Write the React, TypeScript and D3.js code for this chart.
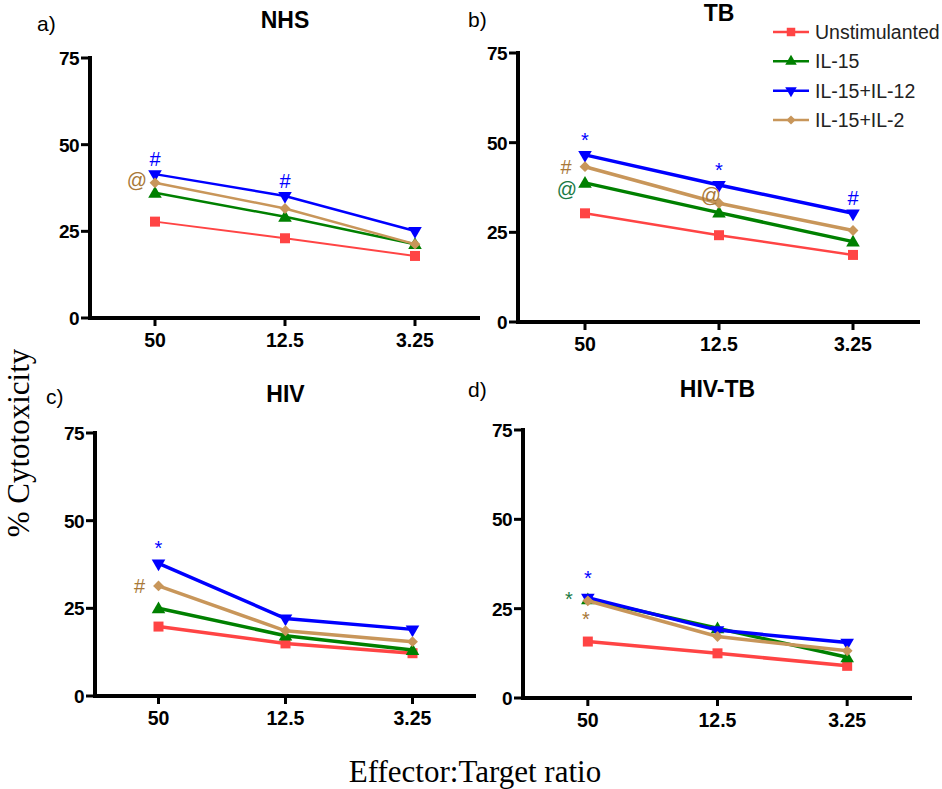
import React from 'react';
import * as d3 from 'd3';

// E:T ratios on the x axis
const ratios = ['50', '12.5', '3.25'];
const seriesNames = ['Unstimulanted', 'IL-15', 'IL-15+IL-12', 'IL-15+IL-2'];
const yTicks = [0, 25, 50, 75];

// % cytotoxicity, one row per series (same order as seriesNames)
const nhsValues = [
  [27.8, 23.0, 17.9],
  [36.1, 29.2, 21.3],
  [41.5, 35.2, 25.1],
  [39.0, 31.6, 21.3],
];
const tbValues = [
  [30.3, 24.2, 18.7],
  [38.8, 30.5, 22.4],
  [46.6, 38.2, 30.3],
  [43.3, 33.1, 25.5],
];
const hivValues = [
  [19.8, 15.0, 12.2],
  [25.0, 17.2, 13.1],
  [37.8, 22.1, 19.0],
  [31.4, 18.6, 15.5],
];
const hivTbValues = [
  [15.8, 12.5, 9.0],
  [27.6, 19.5, 11.4],
  [28.1, 19.0, 15.5],
  [27.2, 17.2, 13.2],
];

// significance marks: series index, ratio index, symbol, where it sits
const nhsMarks = [
  { s: 2, r: 0, t: '#', at: 'above' },
  { s: 2, r: 1, t: '#', at: 'above' },
  { s: 3, r: 0, t: '@', at: 'leftHigh' },
];
const tbMarks = [
  { s: 2, r: 0, t: '*', at: 'above' },
  { s: 3, r: 0, t: '#', at: 'left' },
  { s: 1, r: 0, t: '@', at: 'leftLow' },
  { s: 2, r: 1, t: '*', at: 'above' },
  { s: 3, r: 1, t: '@', at: 'on' },
  { s: 2, r: 2, t: '#', at: 'above' },
];
const hivMarks = [
  { s: 2, r: 0, t: '*', at: 'above' },
  { s: 3, r: 0, t: '#', at: 'left' },
];
const hivTbMarks = [
  { s: 2, r: 0, t: '*', at: 'aboveFar' },
  { s: 1, r: 0, t: '*', at: 'left' },
  { s: 3, r: 0, t: '*', at: 'below' },
];

const colors = ['#ff4444', '#008000', '#0000ff', '#c8965a'];
const markColors = ['#ff4444', '#1a7a45', '#0000ff', '#a87838'];
const sans = '"Liberation Sans", Arial, sans-serif';
const serif = '"Liberation Serif", "Times New Roman", serif';

const symbolPath = (i: number) => {
  if (i === 0) return d3.symbol(d3.symbolSquare, 100)() as string;
  if (i === 3) return d3.symbol(d3.symbolDiamond2, 75)() as string;
  return d3.symbol(d3.symbolTriangle, 80)() as string;
};

type Mark = { s: number; r: number; t: string; at: string };

type PanelProps = {
  label: string;
  title: string;
  values: number[][];
  marks: Mark[];
  x0: number;
  x1: number;
  yZero: number;
  yTop: number;
  titleY: number;
  labelX: number;
  labelY: number;
  widths: number[];
};

function Panel(p: PanelProps) {
  const x = d3.scalePoint<string>().domain(ratios).range([p.x0, p.x1]).padding(0.5);
  const y = d3.scaleLinear().domain([0, 75]).range([p.yZero, p.yTop]);
  const line = d3
    .line<number>()
    .x((_, i) => x(ratios[i]) as number)
    .y((d) => y(d));

  const markPos = (m: Mark) => {
    const px = x(ratios[m.r]) as number;
    const py = y(p.values[m.s][m.r]);
    if (m.at === 'above') return [px, py - 15];
    if (m.at === 'aboveFar') return [px, py - 20];
    if (m.at === 'left') return [px - 19, py];
    if (m.at === 'leftHigh') return [px - 18, py - 3];
    if (m.at === 'leftLow') return [px - 18, py + 6];
    if (m.at === 'below') return [px - 2, py + 18];
    return [px - 8, py - 8];
  };

  return (
    <g>
      <text x={p.labelX} y={p.labelY} fontFamily={sans} fontSize={21}>
        {p.label}
      </text>
      <text x={(p.x0 + p.x1) / 2} y={p.titleY} fontFamily={sans} fontSize={23} fontWeight="bold" textAnchor="middle">
        {p.title}
      </text>
      {/* axes */}
      <line x1={p.x0} x2={p.x0} y1={p.yTop - 2} y2={p.yZero + 2} stroke="#000" strokeWidth={4} />
      <line x1={p.x0} x2={p.x1} y1={p.yZero} y2={p.yZero} stroke="#000" strokeWidth={4} />
      {yTicks.map((t) => (
        <g key={t}>
          <line x1={p.x0 - 9} x2={p.x0} y1={y(t)} y2={y(t)} stroke="#000" strokeWidth={3} />
          <text x={p.x0 - 11} y={y(t) + 7} textAnchor="end" fontFamily={sans} fontWeight="bold" fontSize={19} letterSpacing={-0.6}>
            {t}
          </text>
        </g>
      ))}
      {ratios.map((r) => (
        <g key={r}>
          <line x1={x(r)} x2={x(r)} y1={p.yZero} y2={p.yZero + 8} stroke="#000" strokeWidth={3} />
          <text x={x(r)} y={p.yZero + 29} textAnchor="middle" fontFamily={sans} fontWeight="bold" fontSize={19.5}>
            {r}
          </text>
        </g>
      ))}
      {/* series */}
      {p.values.map((vals, si) => (
        <g key={si}>
          <path d={line(vals) as string} fill="none" stroke={colors[si]} strokeWidth={p.widths[si]} />
          {vals.map((v, ri) => (
            <path
              key={ri}
              d={symbolPath(si)}
              fill={colors[si]}
              transform={`translate(${x(ratios[ri])},${y(v) + (si === 1 ? 1 : 0)})${si === 2 ? ' rotate(180)' : ''}`}
            />
          ))}
        </g>
      ))}
      {p.marks.map((m, i) => {
        const [mx, my] = markPos(m);
        return (
          <text
            key={i}
            x={mx}
            y={my}
            textAnchor="middle"
            dominantBaseline="central"
            fontFamily={sans}
            fontSize={20}
            fill={markColors[m.s]}
          >
            {m.t}
          </text>
        );
      })}
    </g>
  );
}

function Legend() {
  const rowY = d3.scalePoint<string>().domain(seriesNames).range([32, 120]);
  return (
    <g>
      {seriesNames.map((n, i) => {
        const yy = rowY(n) as number;
        return (
          <g key={n}>
            <line x1={773} x2={809} y1={yy} y2={yy} stroke={colors[i]} strokeWidth={2.5} />
            <path
              d={symbolPath(i)}
              fill={colors[i]}
              transform={`translate(791,${yy}) scale(0.85)${i === 2 ? ' rotate(180)' : ''}`}
            />
            <text x={815} y={yy + 7} fontFamily={sans} fontSize={19.5} fill="#222">
              {n}
            </text>
          </g>
        );
      })}
    </g>
  );
}

export default function App() {
  return (
    <svg width={942} height={789} style={{ position: 'absolute', left: 0, top: 0, background: '#fff' }}>
      <rect width={942} height={789} fill="#fff" />
      <Panel label="a)" title="NHS" values={nhsValues} marks={nhsMarks} x0={90} x1={480} yZero={318} yTop={58}
        titleY={28} labelX={37} labelY={31} widths={[2, 2.5, 2.5, 2.5]} />
      <Panel label="b)" title="TB" values={tbValues} marks={tbMarks} x0={518} x1={920} yZero={322} yTop={53}
        titleY={21} labelX={468} labelY={27} widths={[2.5, 3.5, 3.5, 3.5]} />
      <Panel label="c)" title="HIV" values={hivValues} marks={hivMarks} x0={95} x1={476} yZero={696} yTop={433}
        titleY={402} labelX={46} labelY={404} widths={[3.5, 3.5, 3.5, 3.5]} />
      <Panel label="d)" title="HIV-TB" values={hivTbValues} marks={hivTbMarks} x0={523} x1={912} yZero={698} yTop={430}
        titleY={397} labelX={468} labelY={397} widths={[3.5, 3.5, 3.5, 3.5]} />
      <Legend />
      <text transform="translate(29,443) rotate(-90)" textAnchor="middle" fontFamily={serif} fontSize={31}>
        % Cytotoxicity
      </text>
      <text x={475} y={782} textAnchor="middle" fontFamily={serif} fontSize={31}>
        Effector:Target ratio
      </text>
    </svg>
  );
}
